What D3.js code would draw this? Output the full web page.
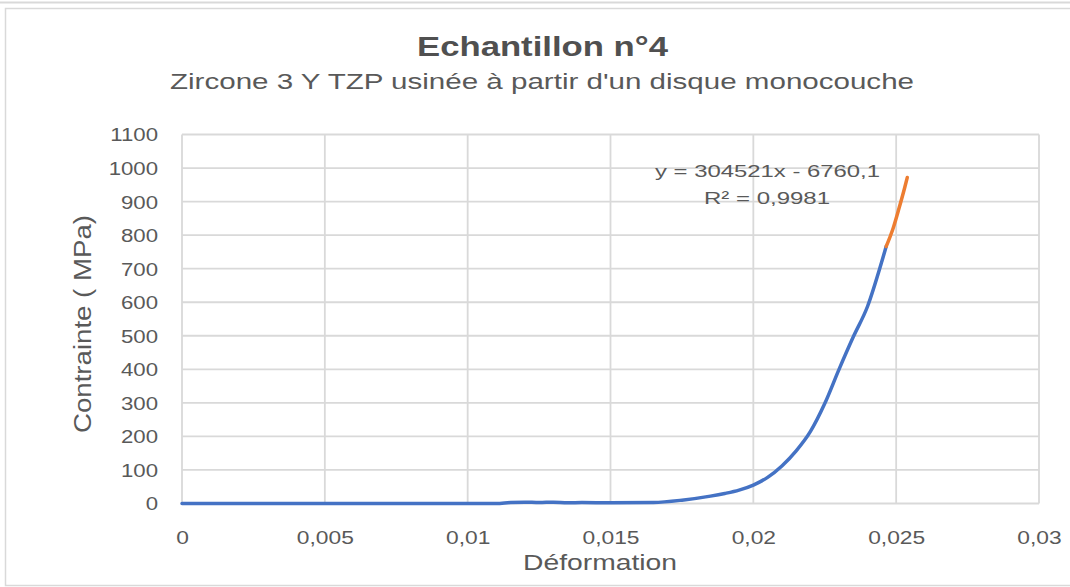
<!DOCTYPE html>
<html><head><meta charset="utf-8">
<script src="https://cdn.jsdelivr.net/npm/d3@7"></script>
<style>body{margin:0;background:#fff}svg{display:block}</style>
</head><body>
<svg id="c" width="1070" height="587"></svg>
<script>
// ---- data ----
const blueStrain = [0, 0.005, 0.01, 0.011, 0.0115, 0.012, 0.0125, 0.013, 0.0135, 0.014, 0.015, 0.0165, 0.0175, 0.0185, 0.019, 0.0195, 0.02, 0.0205, 0.021, 0.0215, 0.022, 0.0225, 0.023, 0.0235, 0.024, 0.0245, 0.02465];
const blueStress = [0, 0, 0, 0, 3, 4, 3, 4, 2, 3, 2, 3, 10, 22, 30, 40, 55, 78, 112, 157, 215, 298, 400, 497, 588, 722, 766];
const orangeStrain = [0.02465, 0.0249, 0.0251, 0.0253, 0.02539];
const orangeStress = [766, 822, 880, 942, 972];
const xTicks = [0, 0.005, 0.01, 0.015, 0.02, 0.025, 0.03];
const xTickLabels = ["0", "0,005", "0,01", "0,015", "0,02", "0,025", "0,03"];
const yTicks = [0, 100, 200, 300, 400, 500, 600, 700, 800, 900, 1000, 1100];
const titleText = "Echantillon n°4";
const subtitleText = "Zircone 3 Y TZP usinée à partir d'un disque monocouche";
const xTitle = "Déformation";
const yTitle = "Contrainte ( MPa)";
const eqLines = ["y = 304521x - 6760,1", "R² = 0,9981"];

const svg = d3.select("#c");
const txt = "#595959", grid = "#D9D9D9";
const F = "'Liberation Sans', Arial, sans-serif";

// frame
svg.append("line").attr("x1", 0).attr("x2", 1070).attr("y1", 2.5).attr("y2", 2.5).attr("stroke", grid).attr("stroke-width", 2);
svg.append("rect").attr("x", 5.5).attr("y", 8.5).attr("width", 1080).attr("height", 577).attr("fill", "#fff").attr("stroke", grid).attr("stroke-width", 1.5);

const x = d3.scaleLinear().domain([0, 0.03]).range([182, 1039]);
const y = d3.scaleLinear().domain([0, 1100]).range([503.5, 134.5]);

// grid
const g = svg.append("g");
g.selectAll(".vx").data(xTicks).join("line").attr("x1", d => x(d)).attr("x2", d => x(d)).attr("y1", y(0)).attr("y2", y(1100)).attr("stroke", grid).attr("stroke-width", 1.8);
g.selectAll(".hy").data(yTicks).join("line").attr("x1", x(0)).attr("x2", x(0.03)).attr("y1", d => y(d)).attr("y2", d => y(d)).attr("stroke", grid).attr("stroke-width", 1.8);

// axes (labels only)
const xAxis = d3.axisBottom(x).tickValues(xTicks).tickFormat((d, i) => xTickLabels[i]).tickSize(0).tickPadding(0);
const xa = svg.append("g").attr("transform", `translate(0,${y(0)})`).call(xAxis);
xa.select(".domain").remove();
xa.selectAll("text").attr("font-family", F).attr("font-size", 19).attr("fill", txt).attr("dy", null).attr("y", 0).attr("x", 0)
  .attr("transform", "translate(0,40) scale(1.2,1)");

const yAxis = d3.axisLeft(y).tickValues(yTicks).tickSize(0).tickPadding(0).tickFormat(d3.format("d"));
const ya = svg.append("g").attr("transform", `translate(158,0)`).call(yAxis);
ya.select(".domain").remove();
ya.selectAll("text").attr("font-family", F).attr("font-size", 18.5).attr("fill", txt).attr("x", 0).attr("dy", "0.35em")
  .attr("transform", "scale(1.2,1)");

// lines
const line = d3.line().x(d => x(d[0])).y(d => y(d[1])).curve(d3.curveMonotoneX);
svg.append("path").datum(blueStrain.map((s, i) => [s, blueStress[i]])).attr("d", line)
  .attr("fill", "none").attr("stroke", "#4472C4").attr("stroke-width", 3.5).attr("stroke-linejoin", "round").attr("stroke-linecap", "round");
svg.append("path").datum(orangeStrain.map((s, i) => [s, orangeStress[i]])).attr("d", line)
  .attr("fill", "none").attr("stroke", "#ED7D31").attr("stroke-width", 3.5).attr("stroke-linecap", "round");

// titles
function t(str, cx, by, size, len, weight) {
  return svg.append("text").attr("x", cx).attr("y", by).attr("text-anchor", "middle")
    .attr("font-family", F).attr("font-size", size).attr("font-weight", weight || "normal")
    .attr("fill", txt).attr("textLength", len).attr("lengthAdjust", "spacingAndGlyphs").text(str);
}
t(titleText, 542.5, 56, 28, 251, "bold").attr("fill", "#505050");
t(subtitleText, 542, 89, 22, 744);
t(xTitle, 600, 570, 22.5, 154);
svg.append("text").attr("transform", "translate(91,324) rotate(-90)").attr("text-anchor", "middle")
  .attr("font-family", F).attr("font-size", 23).attr("fill", txt)
  .attr("textLength", 218).attr("lengthAdjust", "spacingAndGlyphs").text(yTitle);

// trendline equation
t(eqLines[0], 767.5, 177, 17, 225);
t(eqLines[1], 767, 204, 17, 126);
</script>
</body></html>
